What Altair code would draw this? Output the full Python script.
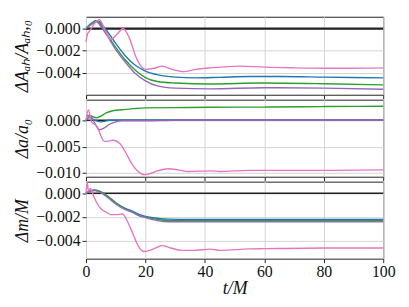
import altair as alt
import pandas as pd

series_names = ["blue", "green", "purple", "pink"]
series_colors = ["#1f77b4", "#2ca02c", "#9467bd", "#e377c2"]

zero_t = [0, 100]
zero_v = [0.0, 0.0]

x_ticks = [0, 20, 40, 60, 80, 100]

# ---- Panel 1: Delta A_AH / A_AH,0 ----
p1_blue_t = [0, 1.5, 3, 4, 5.5, 7, 10, 13.4, 16.7, 20, 24.3, 30, 37, 45, 55, 65, 80, 100]
p1_blue_v = [0, 0.0004, 0.0007, 0.00072, 0.0003, -0.0002, -0.00135, -0.00253, -0.00335, -0.00385,
             -0.0042, -0.0044, -0.00447, -0.00442, -0.00435, -0.00435, -0.0044, -0.00447]
p1_green_t = [0, 1.5, 3.6, 5, 7, 10, 13.4, 16.7, 20, 24, 30, 42, 59, 80, 100]
p1_green_v = [0, 0.0004, 0.0007, 0.0003, -0.0005, -0.0017, -0.0029, -0.0038, -0.00444, -0.0048,
              -0.00494, -0.00503, -0.00494, -0.005, -0.0051]
p1_purple_t = [0, 1.5, 3.6, 5, 7, 10, 13.4, 16.7, 20, 24, 30, 42, 60, 80, 100]
p1_purple_v = [0, 0.0003, 0.0006, 0.0002, -0.0006, -0.0019, -0.0031, -0.0041, -0.00474, -0.0052,
               -0.0054, -0.00547, -0.00536, -0.0054, -0.0055]
p1_pink_t = [0, 0.5, 1, 2, 3, 4.5, 6.5, 8.4, 10.5, 12.5, 14.5, 17, 20, 23, 25.6, 29, 32.8, 37, 42,
             51.5, 60, 70, 85, 100]
p1_pink_v = [-0.0012, -0.0005, -0.0003, 0.0001, 0.0005, 0.0008, -0.0002, -0.001, -0.0005, 0.0,
             -0.0008, -0.0027, -0.0037, -0.0036, -0.0034, -0.0037, -0.0039, -0.0037, -0.00356,
             -0.0034, -0.0035, -0.00356, -0.0036, -0.00356]

# ---- Panel 2: Delta a / a0 ----
p2_blue_t = [0, 1, 3, 5, 8, 20, 100]
p2_blue_v = [0, 0.0005, 0.0, -0.0003, 0.0, 0.0, 0.0]
p2_green_t = [0, 1, 3.6, 5, 6.8, 9, 12.3, 16, 20, 30, 42, 60, 80, 100]
p2_green_v = [0.0008, 0.0009, 0.00045, 0.0008, 0.0014, 0.0018, 0.002, 0.0022, 0.00235, 0.0024,
              0.00247, 0.0025, 0.0026, 0.00266]
p2_purple_t = [0, 1.5, 3, 4.5, 6, 7.8, 10, 12, 20, 30, 100]
p2_purple_v = [0, 0.0008, -0.0006, -0.0018, -0.0015, -0.0008, -0.0003, -0.0001, -0.0001, 0.0, 0.0]
p2_pink_t = [0, 0.8, 1.8, 3.6, 6.2, 8, 9, 11.7, 13.5, 15.6, 17.5, 19.5, 21, 24, 27.8, 31, 34.4,
             42, 45, 55, 60, 80, 100]
p2_pink_v = [0, 0.002, -0.0002, -0.0011, -0.004, -0.0039, -0.0038, -0.0046, -0.0063, -0.0084,
             -0.0097, -0.0103, -0.0102, -0.0096, -0.0092, -0.0094, -0.0097, -0.0096, -0.0097,
             -0.0095, -0.0095, -0.0095, -0.0094]

# ---- Panel 3: Delta m / M ----
p3_blue_t = [0, 1.5, 3, 5, 7.5, 10, 12.5, 15.6, 18, 20, 24, 27.8, 35, 50, 70, 100]
p3_blue_v = [0, 0.0002, 0.00025, 0.0001, -0.0003, -0.0008, -0.0012, -0.0015, -0.0018, -0.00195,
             -0.0021, -0.00218, -0.0022, -0.0022, -0.0022, -0.0022]
p3_green_t = [0, 1.5, 3, 5, 7.5, 10, 12.5, 15.6, 18, 20, 24, 27.8, 35, 50, 70, 100]
p3_green_v = [0, 0.0002, 0.00028, 0.00012, -0.0003, -0.0008, -0.0012, -0.0016, -0.0019, -0.002,
              -0.0022, -0.0023, -0.0023, -0.0023, -0.0023, -0.0023]
p3_purple_t = [0, 1.5, 3, 5, 7.5, 10, 12.5, 15.6, 18, 20, 24, 27.8, 35, 50, 70, 100]
p3_purple_v = [0, 0.0002, 0.00022, 0.00005, -0.0004, -0.0009, -0.0013, -0.0016, -0.0019, -0.00205,
               -0.0023, -0.0024, -0.0024, -0.0024, -0.0024, -0.0024]
p3_pink_t = [0, 0.4, 0.8, 1.5, 2.5, 3.6, 5, 6.8, 8.5, 10, 12.3, 14, 15.6, 17.5, 19.5, 21.4, 23.5,
             25.6, 28.5, 32.2, 36, 42, 45, 55, 60, 80, 100]
p3_pink_v = [0, 0.0009, 0.0002, 0.0004, -0.0002, -0.0008, -0.0013, -0.0016, -0.0018, -0.0018,
             -0.00175, -0.0024, -0.0033, -0.0044, -0.0049, -0.0048, -0.0046, -0.0044, -0.0046,
             -0.0048, -0.0048, -0.0047, -0.0048, -0.00468, -0.00466, -0.0046, -0.0046]


def frame(pairs):
    rows = []
    for name, ts, vs in pairs:
        for t, v in zip(ts, vs):
            rows.append({"t": t, "v": v, "s": name})
    return pd.DataFrame(rows)


df1 = frame([("blue", p1_blue_t, p1_blue_v), ("green", p1_green_t, p1_green_v),
             ("purple", p1_purple_t, p1_purple_v), ("pink", p1_pink_t, p1_pink_v)])
df2 = frame([("blue", p2_blue_t, p2_blue_v), ("green", p2_green_t, p2_green_v),
             ("purple", p2_purple_t, p2_purple_v), ("pink", p2_pink_t, p2_pink_v)])
df3 = frame([("blue", p3_blue_t, p3_blue_v), ("green", p3_green_t, p3_green_v),
             ("purple", p3_purple_t, p3_purple_v), ("pink", p3_pink_t, p3_pink_v)])
zero_df = pd.DataFrame({"t": zero_t, "v": zero_v})

LABEL_FONT = "Liberation Serif"


def panel(df, domain, ticks, title, height, bottom, zero_width):
    if bottom:
        xaxis = alt.Axis(values=x_ticks, title="t/M", titleFont=LABEL_FONT, titleFontSize=18,
                         titleFontStyle="italic", titleFontWeight="normal", titlePadding=0,
                         labelFont=LABEL_FONT, labelFontSize=16, labelPadding=1, tickSize=4,
                         gridColor="#d4d4d4", labelFlush=False)
    else:
        xaxis = alt.Axis(values=x_ticks, title=None, labels=False, tickSize=4, gridColor="#d4d4d4")
    x = alt.X("t:Q", scale=alt.Scale(domain=[0, 100], nice=False, zero=False), axis=xaxis)
    y = alt.Y("v:Q", scale=alt.Scale(domain=domain, nice=False, zero=False),
              axis=alt.Axis(values=ticks, format=".3f", title=title, titleFont=LABEL_FONT,
                            titleFontSize=18, titleFontStyle="italic", titleFontWeight="normal",
                            titlePadding=2, labelFont=LABEL_FONT, labelFontSize=16,
                            labelPadding=2, tickSize=4, minExtent=53, maxExtent=53,
                            gridColor="#d4d4d4"))
    zero = alt.Chart(zero_df).mark_line(color="#222222", strokeWidth=zero_width).encode(x=x, y=y)
    lines = alt.Chart(df).mark_line(strokeWidth=1.4, interpolate="monotone").encode(
        x=x, y=y,
        color=alt.Color("s:N", scale=alt.Scale(domain=series_names, range=series_colors), legend=None),
    )
    return alt.layer(zero, lines).properties(width=301, height=height)


c1 = panel(df1, [-0.006, 0.00107], [0.0, -0.002, -0.004], "ΔAₐₕ/Aₐₕ,₀", 79, False, 2.2)
c2 = panel(df2, [-0.0107, 0.0039], [0.0, -0.005, -0.010], "Δa/a₀", 78, False, 1.6)
c3 = panel(df3, [-0.0055, 0.00097], [0.0, -0.002, -0.004], "Δm/M", 78, True, 1.6)

chart = alt.vconcat(c1, c2, c3, spacing=5, bounds="flush").properties(
    padding={"left": 5, "top": 6, "right": 5, "bottom": 0}
).configure_view(stroke="#222222", strokeWidth=1).configure_axis(
    domain=False, tickColor="#222222", labelColor="#111111", titleColor="#111111"
)

chart.save("out.html", embed_options={"renderer": "svg", "actions": False})
